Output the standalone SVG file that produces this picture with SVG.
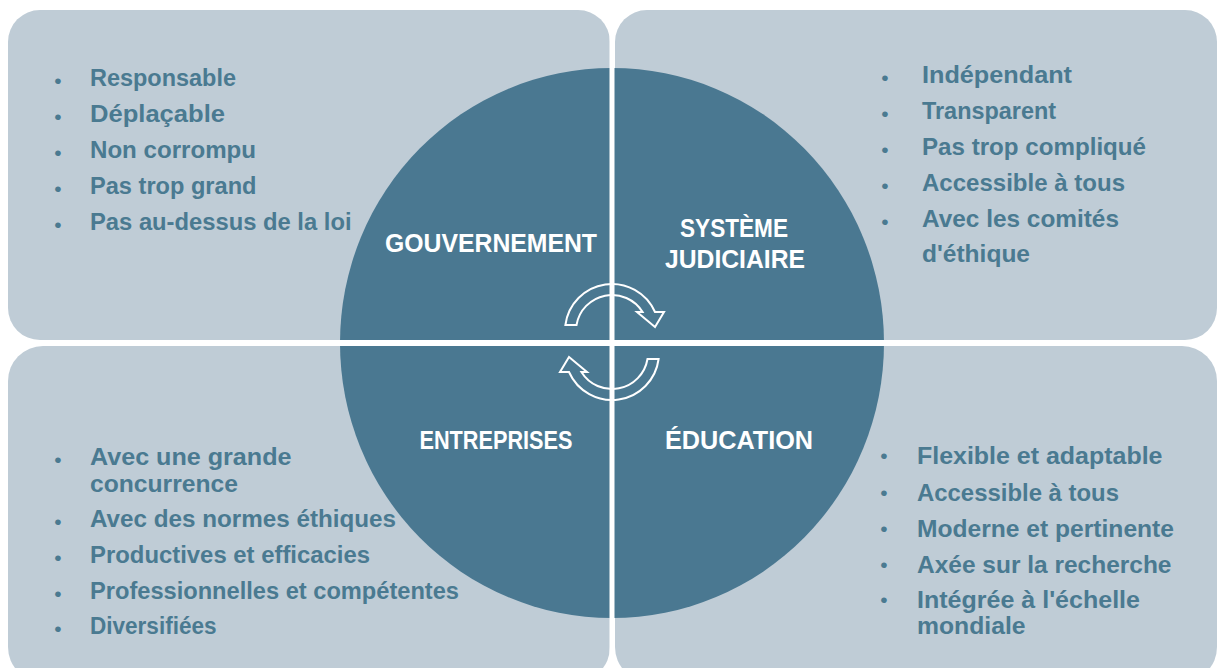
<svg xmlns="http://www.w3.org/2000/svg" width="1222" height="668" viewBox="0 0 1222 668">
<style>
.panel{fill:#BFCCD6;}
.item{font-family:"Liberation Sans",Arial,sans-serif;font-weight:bold;font-size:23.5px;fill:#4A7A91;}
.big{font-size:24.5px;}
.mid{font-size:24px;}
.bul{font-family:"Liberation Sans",Arial,sans-serif;font-size:21px;fill:#4A7A91;text-anchor:middle;}
.lbl{font-family:"Liberation Sans",Arial,sans-serif;font-weight:bold;font-size:25px;fill:#FFFFFF;text-anchor:middle;}
.arr{fill:none;stroke:#FFFFFF;stroke-width:2;stroke-linejoin:miter;}
</style>
<rect width="1222" height="668" fill="#FFFFFF"/>
<g id="panel-tl"><rect class="panel" x="8" y="10" width="602" height="330" rx="32" ry="32"/></g>
<g id="panel-tr"><rect class="panel" x="615" y="10" width="602" height="330" rx="32" ry="32"/></g>
<g id="panel-bl"><rect class="panel" x="8" y="346" width="602" height="336" rx="35" ry="35"/></g>
<g id="panel-br"><rect class="panel" x="615" y="346" width="602" height="336" rx="35" ry="35"/></g>
<g id="circle"><ellipse cx="612" cy="343" rx="272" ry="275" fill="#4A7891"/></g>
<g id="connectors">
<path class="arr" d="M 565.4,325 A 47 47 0 0 1 655,312 L 664,312 L 655,327 L 637,312 L 642.6,312 A 36 36 0 0 0 576.5,325 Z"/>
<path class="arr" transform="rotate(180 612 342)" d="M 565.4,325 A 47 47 0 0 1 655,312 L 664,312 L 655,327 L 637,312 L 642.6,312 A 36 36 0 0 0 576.5,325 Z"/>
</g>
<g id="dividers" fill="#FFFFFF">
<rect x="609.5" y="0" width="5" height="668"/>
<rect x="0" y="340" width="1222" height="6"/>
</g>
<g id="gouvernement">
<text class="lbl" x="491" y="252" textLength="212" lengthAdjust="spacingAndGlyphs">GOUVERNEMENT</text>
<text class="bul" x="58" y="88">•</text><text class="item" x="90" y="86" textLength="146" lengthAdjust="spacingAndGlyphs">Responsable</text>
<text class="bul" x="58" y="124">•</text><text class="item" x="90" y="122" textLength="135" lengthAdjust="spacingAndGlyphs">Déplaçable</text>
<text class="bul" x="58" y="160">•</text><text class="item" x="90" y="158" textLength="166" lengthAdjust="spacingAndGlyphs">Non corrompu</text>
<text class="bul" x="58" y="196">•</text><text class="item" x="90" y="194" textLength="166.5" lengthAdjust="spacingAndGlyphs">Pas trop grand</text>
<text class="bul" x="58" y="232">•</text><text class="item" x="90" y="230" textLength="261.5" lengthAdjust="spacingAndGlyphs">Pas au-dessus de la loi</text>
</g>
<g id="systeme-judiciaire">
<text class="lbl" x="734" y="237" textLength="108" lengthAdjust="spacingAndGlyphs">SYSTÈME</text>
<text class="lbl" x="735" y="268" textLength="140" lengthAdjust="spacingAndGlyphs">JUDICIAIRE</text>
<text class="bul" x="885" y="85">•</text><text class="item mid" x="922" y="83" textLength="150" lengthAdjust="spacingAndGlyphs">Indépendant</text>
<text class="bul" x="885" y="121">•</text><text class="item mid" x="922" y="119" textLength="134" lengthAdjust="spacingAndGlyphs">Transparent</text>
<text class="bul" x="885" y="157">•</text><text class="item mid" x="922" y="155" textLength="224" lengthAdjust="spacingAndGlyphs">Pas trop compliqué</text>
<text class="bul" x="885" y="193">•</text><text class="item mid" x="922" y="191" textLength="203" lengthAdjust="spacingAndGlyphs">Accessible à tous</text>
<text class="bul" x="885" y="229">•</text><text class="item mid" x="922" y="227" textLength="197" lengthAdjust="spacingAndGlyphs">Avec les comités</text>
<text class="item mid" x="922" y="262" textLength="108" lengthAdjust="spacingAndGlyphs">d'éthique</text>
</g>
<g id="entreprises">
<text class="lbl" x="496" y="449" textLength="153" lengthAdjust="spacingAndGlyphs">ENTREPRISES</text>
<text class="bul" x="58" y="467">•</text><text class="item" x="90" y="465" textLength="201.5" lengthAdjust="spacingAndGlyphs">Avec une grande</text>
<text class="item" x="90" y="491.5" textLength="148" lengthAdjust="spacingAndGlyphs">concurrence</text>
<text class="bul" x="58" y="529">•</text><text class="item" x="90" y="527" textLength="306" lengthAdjust="spacingAndGlyphs">Avec des normes éthiques</text>
<text class="bul" x="58" y="565">•</text><text class="item" x="90" y="563" textLength="280" lengthAdjust="spacingAndGlyphs">Productives et efficacies</text>
<text class="bul" x="58" y="600.5">•</text><text class="item" x="90" y="598.5" textLength="369" lengthAdjust="spacingAndGlyphs">Professionnelles et compétentes</text>
<text class="bul" x="58" y="636">•</text><text class="item" x="90" y="634" textLength="126.5" lengthAdjust="spacingAndGlyphs">Diversifiées</text>
</g>
<g id="education">
<text class="lbl" x="739" y="449" textLength="148" lengthAdjust="spacingAndGlyphs">ÉDUCATION</text>
<text class="bul" x="884" y="463">•</text><text class="item big" x="917" y="464" textLength="245.5" lengthAdjust="spacingAndGlyphs">Flexible et adaptable</text>
<text class="bul" x="884" y="499.5">•</text><text class="item big" x="917" y="500.5" textLength="202" lengthAdjust="spacingAndGlyphs">Accessible à tous</text>
<text class="bul" x="884" y="535.5">•</text><text class="item big" x="917" y="536.5" textLength="257" lengthAdjust="spacingAndGlyphs">Moderne et pertinente</text>
<text class="bul" x="884" y="571.5">•</text><text class="item big" x="917" y="572.5" textLength="254.5" lengthAdjust="spacingAndGlyphs">Axée sur la recherche</text>
<text class="bul" x="884" y="607">•</text><text class="item big" x="917" y="608" textLength="223" lengthAdjust="spacingAndGlyphs">Intégrée à l'échelle</text>
<text class="item big" x="917" y="634" textLength="108.5" lengthAdjust="spacingAndGlyphs">mondiale</text>
</g>
</svg>
